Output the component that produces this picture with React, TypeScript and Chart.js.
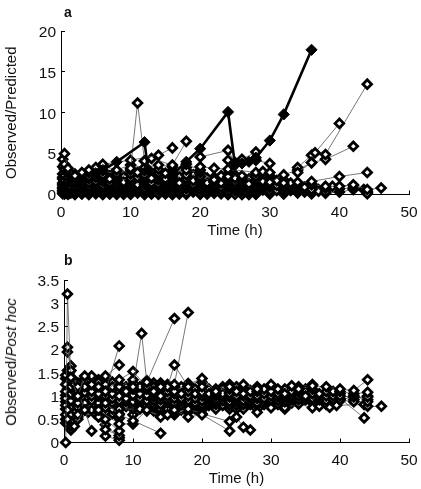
import React, { useEffect, useRef } from "react";
import { Chart, registerables } from "chart.js";

Chart.register(...registerables);

type P = [number, number];

const xTicks = [0, 10, 20, 30, 40, 50];
const yTicksA = [0, 5, 10, 15, 20];
const yTicksB = [0, 0.5, 1, 1.5, 2, 2.5, 3, 3.5];

// Panel a: the two highlighted subjects
const aBoldOne: P[] = [[5, 2.6], [6, 3], [8, 4], [12, 6.4], [12.5, 3.1]];
const aBoldTwo: P[] = [[16, 2.4], [18, 4], [20, 5.6], [24, 10.1], [25, 3.6], [26, 3.8], [27, 4], [28, 4.5], [30, 6.6], [32, 9.8], [36, 17.7]];

// Panel a: remaining subjects
const aSubjects: P[][] = [
  [[10, 3.2], [11, 11.2], [12, 4.1]],
  [[6, 3.7], [10, 4.2], [14, 4.8], [16, 5.7]],
  [[12, 4.1], [13, 4.4], [16, 3.6], [18, 6.5]],
  [[20, 4.6], [24, 5.4], [25, 3.9], [26, 4.3], [28, 5.2]],
  [[24, 4.2], [26, 4], [28, 4.2], [30, 3.8]],
  [[20, 3.4], [22, 3.2], [24, 3.1], [28, 2.7], [29, 2.8], [30, 2.7]],
  [[34, 2.7], [36, 3.9], [36.5, 5.1], [40, 8.7]],
  [[34, 3.3], [36, 4.8], [38, 4.9], [44, 13.5]],
  [[30, 1.5], [32, 2.4], [34, 3], [36, 3.9], [38, 4.3], [42, 5.9]],
  [[34, 1.5], [36, 1.6], [40, 2.2], [44, 2.7]],
  [[36, 1.2], [38, 1], [40, 1], [42, 1.2], [44, 0.6], [46, 0.8]],
  [[36, 0.6], [38, 0.8], [39, 1], [42, 1.1], [43.5, 0.6], [44, 0.1]],
  [[0.5, 5], [1, 3.2], [2, 2.3], [3, 2.7], [4, 3], [5, 3.3], [6, 3.5], [8, 3], [10, 3.6], [12, 3.3], [14, 3.6], [16, 3.4]],
  [[0.25, 4.3], [0.5, 3.7], [1, 2.9], [2, 2.1], [3, 2.4], [4, 2.7], [5, 2.9], [6, 2.9], [8, 2.5], [10, 3], [11, 2.7], [12, 2.9], [14, 3.1], [15, 2.6], [16, 3], [18, 3.7], [20, 3]],
  [[0.5, 3.1], [1, 2.6], [1.5, 2.4], [2, 1.8], [3, 2], [4, 2.2], [5, 2.5], [6, 2.4], [7, 1.9], [8, 2.1], [10, 2.5], [12, 2.4], [13, 2], [14, 2.6], [16, 2.6], [18, 3], [20, 2.7], [22, 1.8], [23, 2.3], [24, 2.2], [26, 2.3], [28, 2.2], [30, 2.3]],
  [[0.25, 2.5], [0.5, 2.3], [1, 2.1], [1.5, 1.9], [2, 1.4], [3, 1.6], [4, 1.9], [5, 2.1], [6, 2], [7, 1.4], [8, 1.7], [10, 2], [11, 2.1], [12, 2], [14, 2.2], [15, 1.9], [16, 2.1], [18, 2.4], [20, 2.2], [22, 1.5], [24, 1.9], [25, 2], [26, 1.9], [28, 1.8], [29, 1.6], [30, 1.9], [31, 1.7], [32, 1.4]],
  [[0.25, 1.9], [0.5, 1.7], [1, 1.6], [1.5, 1.4], [2, 1], [3, 1.2], [4, 1.4], [5, 1.6], [6, 1.6], [7, 1.1], [8, 1.3], [9, 1.5], [10, 1.6], [12, 1.6], [13, 1.4], [14, 1.8], [15, 1.5], [16, 1.7], [17, 1.4], [18, 1.9], [19, 1.7], [20, 1.8], [21, 1.4], [22, 1.1], [23, 1.4], [24, 1.6], [25, 1.5], [26, 1.5], [27, 1.3], [28, 1.5], [30, 1.6], [32, 1.1], [33, 1.4]],
  [[0.25, 1.4], [0.5, 1.2], [1, 1.1], [1.5, 0.9], [2, 0.7], [3, 0.8], [4, 1], [5, 1.2], [6, 1.1], [7, 0.8], [8, 0.9], [9, 1.1], [10, 1.2], [11, 1.2], [12, 1.2], [13, 1], [14, 1.3], [15, 1.1], [16, 1.3], [17, 1], [18, 1.5], [19, 1.2], [20, 1.4], [21, 1.2], [22, 0.9], [24, 1.2], [25, 1.1], [26, 1.1], [27, 1], [28, 1.1], [29, 1.2], [30, 1.2], [31, 1.1], [32, 0.8], [33, 1], [34, 1.2], [35, 0.9], [36, 1.3]],
  [[0.25, 0.9], [0.5, 0.8], [1, 0.7], [1.5, 0.6], [2, 0.45], [3, 0.5], [4, 0.65], [5, 0.8], [6, 0.7], [7, 0.55], [8, 0.6], [9, 0.75], [10, 0.8], [11, 0.8], [12, 0.75], [13, 0.7], [14, 0.9], [15, 0.75], [16, 0.9], [17, 0.7], [18, 1.1], [19, 0.85], [20, 1], [21, 0.8], [22, 0.6], [23, 0.9], [24, 0.85], [25, 0.8], [26, 0.7], [27, 0.65], [28, 0.75], [29, 0.8], [30, 0.85], [32, 0.5], [33, 0.7], [34, 0.8], [35, 0.5], [36, 0.9]],
  [[0.25, 0.5], [0.5, 0.4], [1, 0.3], [1.5, 0.25], [2, 0.2], [3, 0.25], [4, 0.35], [5, 0.45], [6, 0.35], [7, 0.3], [8, 0.3], [9, 0.45], [10, 0.5], [11, 0.45], [12, 0.4], [13, 0.4], [14, 0.55], [15, 0.4], [16, 0.5], [17, 0.4], [18, 0.7], [19, 0.5], [20, 0.6], [21, 0.4], [22, 0.3], [23, 0.5], [24, 0.4], [25, 0.5], [26, 0.4], [27, 0.3], [28, 0.4], [30, 0.4], [31, 0.5], [32, 0.2], [34, 0.5], [36, 0.4], [37, 0.4], [38, 0.3]],
  [[0.25, 0.1], [0.5, 0.05], [1, 0.02], [2, 0], [3, 0.05], [4, 0], [5, 0.1], [6, 0], [7, 0.05], [8, 0.02], [9, 0.15], [10, 0.1], [12, 0.1], [13, 0.05], [14, 0.1], [15, 0.05], [16, 0.1], [17, 0.05], [18, 0.2], [20, 0.15], [21, 0.05], [23, 0.1], [24, 0], [25, 0.02], [26, 0], [27, 0], [28, 0.1]],
  [[0.5, 2.7], [1, 2], [2, 1.6], [3, 1.8], [4, 1.6], [5, 1.8], [6, 1.35], [8, 1.5], [10, 1.35], [12, 1.35], [14, 1.5], [16, 1.5], [18, 1.7], [20, 1.55], [22, 1.3], [24, 1.35], [26, 1.25], [28, 1.3]],
  [[0.5, 1.45], [1, 1.3], [2, 1.2], [3, 1.4], [4, 1.2], [5, 1.4], [6, 0.9], [8, 1.1], [10, 0.95], [12, 0.95], [14, 1.05], [16, 1.05], [18, 1.3], [20, 1.15], [22, 0.7], [24, 1], [26, 0.9], [28, 0.9], [30, 1], [32, 0.6]],
  [[0.25, 3.4], [0.75, 2.9], [1.25, 2.5], [2, 2.5], [3, 2.2], [4, 2.5], [5, 2.7], [6, 2.7], [7, 2.3], [8, 2.9], [9, 2.2], [10, 2.8], [11, 2.4], [12, 2.6], [13, 2.4], [14, 2.9], [15, 2.3], [16, 2.8], [17, 2.2], [18, 3.3], [19, 2.4], [20, 2.5], [21, 2], [22, 2.1], [24, 2.6], [25, 2.4], [26, 2.1], [27, 1.9], [28, 2.5], [30, 2], [31, 1.4], [32, 1.8]],
  [[0.25, 2.1], [0.75, 1.9], [1.25, 1.7], [2, 1.2], [3, 1.4], [4, 1.2], [5, 1], [6, 1.8], [7, 1.6], [8, 1.9], [9, 1.8], [10, 1.8], [11, 1.6], [12, 1.8], [13, 1.7], [14, 2], [15, 1.7], [16, 1.9], [17, 1.7], [18, 2.1], [19, 2], [20, 2], [21, 1.6], [22, 1.3], [23, 1.8], [24, 1.45], [25, 1.7], [26, 1.7], [27, 1.6], [28, 1.65], [29, 1.4], [30, 1.3], [31, 1.3], [32, 1.25], [33, 1.2]],
  [[0.25, 1.15], [0.75, 1], [1.25, 1.25], [2, 0.85], [3, 1], [4, 0.85], [5, 0.6], [6, 0.55], [7, 0.95], [8, 0.75], [9, 0.95], [10, 0.65], [11, 1], [12, 0.55], [13, 0.85], [14, 0.7], [15, 0.9], [16, 0.7], [17, 0.85], [18, 0.95], [19, 1], [20, 0.8], [21, 1], [22, 0.75], [23, 0.7], [24, 0.7], [25, 0.95], [26, 0.55], [27, 0.8], [28, 0.6], [29, 1], [30, 0.7], [31, 0.9], [32, 0.95], [33, 0.85], [34, 0.65], [35, 0.7], [36, 0.7]],
  [[0.25, 0.7], [0.75, 0.55], [1.25, 0.45], [2, 0.35], [3, 0.65], [4, 0.5], [5, 0.3], [6, 0.2], [7, 0.45], [8, 0.15], [9, 0.3], [10, 0.3], [11, 0.6], [12, 0.25], [13, 0.55], [14, 0.3], [15, 0.6], [16, 0.3], [17, 0.55], [18, 0.45], [19, 0.7], [20, 0.4], [21, 0.6], [22, 0.45], [23, 0.3], [24, 0.2], [25, 0.3], [26, 0.25], [27, 0.5], [28, 0.25], [29, 0.55], [30, 0.2], [31, 0.7], [32, 0.35], [33, 0.5], [34, 0.3], [35, 0.3], [36, 0.2], [37, 0.6], [38, 0.5], [40, 0.7], [42, 0.8], [44, 0.4]],
  [[0.25, 0.3], [0.75, 0.2], [1.25, 0.15], [2, 0.1], [3, 0.15], [4, 0.2], [5, 0.2], [6, 0.1], [7, 0.15], [8, 0.08], [9, 0.02], [10, 0.02], [11, 0.2], [12, 0], [13, 0.2], [14, 0.02], [15, 0.2], [16, 0], [17, 0.2], [18, 0.02], [19, 0.3], [20, 0.02], [21, 0.25], [22, 0.15], [23, 0.2], [24, 0.1], [26, 0.1], [28, 0.02], [30, 0.05], [32, 0.05], [34, 0.2], [36, 0.1], [38, 0.15], [40, 0.3], [42, 0.6], [44, 0.25]],
];

// Panel b: subjects with outlying values
const bSubjects: P[][] = [
  [[0.25, 0], [0.5, 3.2], [1, 1.4], [2, 1], [3, 1.43], [4, 1.25], [5, 1.2], [6, 1.1], [8, 2.08]],
  [[0.5, 2.05], [1, 1.55], [2, 1.2], [4, 1.43], [5, 1.3], [6, 1.43], [8, 1.67]],
  [[0.5, 1.95], [1, 1.65], [2, 1.1], [3, 0.7], [4, 0.25]],
  [[10, 1.2], [11.25, 2.35], [12, 1.3], [13, 1.1], [14, 1.2]],
  [[12, 1.3], [16, 2.67]],
  [[15, 1.2], [16, 1.67], [18, 1.2]],
  [[14, 1], [16, 1.25], [18, 2.8]],
  [[6, 1.1], [8, 1.35], [10, 1.53], [12, 1.2], [14, 1.25], [16, 1.1], [18, 1.25], [20, 1.38], [22, 1.1], [24, 1.2], [26, 1.25], [28, 1.15]],
  [[6, 0.85], [8, 0.6], [10, 0.47], [14, 0.2]],
  [[5, 0.7], [8, 0.4], [10, 0.4], [12, 0.7], [14, 0.55], [15, 0.6]],
  [[6, 0.75], [8, 0.72], [11, 0.72], [12, 0.68], [14, 0.58], [16, 0.7], [18, 0.55], [20, 0.6], [24, 0.25]],
  [[16, 0.65], [18, 0.72], [20, 0.62], [24, 0.45], [25, 0.55], [26, 0.33], [27, 0.27]],
  [[2, 0.85], [4, 0.7], [6, 0.5], [8, 0.25]],
  [[0.5, 0.5], [1, 0.35], [1.5, 0.35], [3, 0.7], [5, 0.55], [6, 0.28], [8, 0.15]],
  [[0.5, 0.4], [1, 0.27], [2, 0.6], [5, 0.6], [6, 0.14], [8, 0.05]],
  [[0.5, 0.7], [1, 0.45], [2, 0.75], [3, 0.85], [6, 0.38], [8, 0.1]],
  [[0.25, 1.25], [0.5, 1.55], [1, 1.2], [1.5, 1.25], [2, 1.28], [3, 1.2], [4, 1.1], [5, 1.05], [6, 1.25], [7, 1.2], [8, 1.2], [10, 1.35], [11, 1.2], [12, 1.33], [13, 1.2], [14, 1.1], [15, 1.1], [16, 1.2], [17, 1.05], [18, 1.2], [20, 1.2], [21, 1.05], [22, 1.05], [24, 1.15], [25, 1.1], [26, 1.05], [27, 1.1], [28, 1.1], [29, 1.15], [30, 1.25], [31, 1.15], [32, 1.05], [33, 1.22], [34, 1.15], [36, 1.22], [38, 1.2], [40, 1.15], [42, 1.12], [44, 1.35]],
  [[0.25, 1.1], [0.5, 1.3], [1, 1.05], [1.5, 1.1], [2, 1.15], [3, 1.08], [4, 1], [5, 1.15], [6, 1], [7, 1.05], [8, 1], [9, 1.1], [10, 1.15], [11, 1.05], [12, 1.15], [13, 1.05], [14, 1.02], [15, 1], [16, 1.05], [17, 0.95], [18, 1.1], [19, 1.05], [20, 1.08], [21, 1], [22, 1], [23, 1.05], [24, 1.05], [25, 1], [26, 1.12], [27, 1], [28, 1], [29, 1.05], [30, 1.1], [31, 1.05], [32, 1], [33, 1.1], [34, 1.08], [35, 1], [36, 1.15], [37, 1.05], [38, 1.1], [39, 1.1], [40, 1.1], [42, 1.05], [44, 1.08]],
  [[0.25, 0.95], [0.5, 1.15], [1, 0.9], [1.5, 1], [2, 1.03], [3, 0.95], [4, 0.9], [5, 1], [6, 0.92], [7, 0.95], [8, 0.9], [9, 0.95], [10, 1.02], [11, 0.95], [12, 1.02], [13, 0.98], [14, 0.92], [15, 0.92], [16, 0.95], [17, 0.88], [18, 1], [19, 0.95], [20, 1], [21, 0.95], [22, 0.92], [23, 0.98], [24, 0.98], [25, 0.95], [26, 1], [27, 0.95], [28, 0.95], [29, 0.95], [30, 1], [31, 0.98], [32, 0.95], [33, 1.02], [34, 1], [35, 0.97], [36, 1.05], [37, 0.98], [38, 1], [39, 1], [40, 1], [42, 0.98], [44, 0.98]],
  [[0.25, 0.8], [0.5, 1], [1, 0.75], [1.5, 0.85], [2, 0.92], [3, 0.82], [4, 0.8], [5, 0.85], [6, 0.82], [7, 0.85], [8, 0.8], [9, 0.88], [10, 0.88], [11, 0.88], [12, 0.9], [13, 0.9], [14, 0.82], [15, 0.85], [16, 0.85], [17, 0.8], [18, 0.9], [19, 0.85], [20, 0.9], [21, 0.9], [22, 0.85], [23, 0.9], [24, 0.88], [25, 0.88], [26, 0.9], [27, 0.88], [28, 0.85], [29, 0.88], [30, 0.92], [31, 0.9], [32, 0.88], [33, 0.95], [34, 0.92], [35, 0.93], [36, 0.95], [37, 0.92], [38, 0.9], [39, 0.92], [40, 0.92], [42, 0.88], [44, 0.88]],
  [[0.25, 0.6], [0.5, 0.85], [1, 0.6], [1.5, 0.7], [2, 0.78], [3, 0.72], [4, 0.72], [5, 0.75], [6, 0.65], [7, 0.72], [8, 0.52], [9, 0.78], [10, 0.8], [11, 0.78], [12, 0.8], [13, 0.82], [14, 0.72], [15, 0.72], [16, 0.75], [17, 0.7], [18, 0.8], [19, 0.78], [20, 0.82], [22, 0.82], [24, 0.8], [25, 0.8], [26, 0.82], [27, 0.82], [28, 0.65], [29, 0.82], [30, 0.75], [31, 0.82], [32, 0.75], [34, 0.83], [36, 0.75], [37, 0.78], [38, 0.82], [38.5, 0.76], [39.5, 0.8], [43.5, 0.82], [44, 0.78], [46, 0.78]],
  [[0.5, 1.05], [1, 1.35], [2, 1.12], [3, 1.33], [4, 1.35], [5, 1.25], [6, 1.35], [7, 1.08], [8, 1.1], [10, 1.25], [12, 1.25], [14, 1.28], [16, 1.12], [18, 1.27], [20, 1.3], [22, 1.15], [24, 1.25], [26, 1.2], [28, 1.2], [30, 1.15], [32, 1.15], [34, 1.2], [36, 1.25]],
  [[43.5, 0.53], [40, 0.95], [38, 1.02], [36, 1.1], [34, 1.05], [32, 1.02], [30, 1.05], [28, 1.05], [26, 1.03], [24, 1], [22, 1], [20, 0.97], [18, 0.98], [16, 1], [14, 1.02], [12, 0.97], [10, 0.95], [8, 0.95], [6, 1.05], [4, 1.07], [2, 0.97], [1, 0.97], [0.5, 0.6]],
  [[0.25, 1.45], [0.75, 1.28], [1.25, 1.15], [2, 0.9], [2.5, 1.2], [3, 1.25], [3.5, 1.15], [4, 1.2], [4.5, 1.3], [5, 1.35], [5.5, 1.1], [6, 1.15], [6.5, 1], [7, 1.3], [7.5, 1.1], [8, 1.25], [9, 1.2], [10, 1.1], [11, 1.12], [12, 1.1], [13, 1.28], [14, 1.15], [15, 1.25], [16, 1.15], [17, 1.2], [18, 1.15], [19, 1.15], [20, 1.12], [21, 1.15], [22, 0.98], [23, 1.15], [24, 1.1], [25, 1.2], [26, 1.15], [27, 1.05], [28, 1.05], [29, 1.1], [30, 1.05], [31, 0.95], [32, 1.12], [33, 1.05], [34, 1], [35, 1.1], [36, 1]],
  [[0.25, 0.88], [0.75, 1.12], [1.25, 1.02], [2, 0.68], [2.5, 1.05], [3, 1.02], [3.5, 1], [4, 1.02], [4.5, 1.08], [5, 0.92], [5.5, 0.95], [6, 0.88], [6.5, 0.92], [7, 0.9], [7.5, 0.98], [8, 0.85], [9, 1.02], [10, 0.98], [11, 1], [12, 0.85], [13, 1.12], [14, 0.95], [15, 1.05], [16, 0.9], [17, 1.1], [18, 0.92], [19, 0.9], [20, 0.88], [21, 1.1], [22, 0.9], [23, 0.95], [24, 0.92], [25, 1.05], [26, 0.95], [27, 0.92], [28, 0.9], [29, 1], [30, 0.85], [31, 1.1], [32, 0.82], [33, 0.9], [34, 0.95], [35, 1.05], [36, 0.92]],
  [[0.25, 0.72], [0.75, 0.95], [1.25, 0.85], [2, 1.1], [2.5, 0.9], [3, 0.9], [3.5, 0.85], [4, 0.85], [4.5, 0.9], [5, 1.08], [5.5, 0.8], [6, 0.7], [6.5, 0.8], [7, 0.78], [7.5, 0.85], [8, 0.7], [9, 0.92], [10, 0.72], [11, 0.85], [12, 1.08], [13, 0.75], [14, 0.85], [15, 0.65], [16, 0.82], [17, 0.75], [18, 0.85], [19, 1], [20, 0.75], [21, 0.85], [22, 1.1], [23, 0.8], [24, 0.82], [25, 0.72], [26, 0.85], [27, 1.12], [28, 0.72], [29, 0.92], [30, 0.95], [31, 0.88], [32, 0.92], [33, 0.85], [34, 0.88], [35, 1.15], [36, 0.85]],
  [[0.25, 0.5], [0.75, 0.75], [1.25, 0.65], [2, 0.62], [2.5, 0.78], [3, 1.12], [3.5, 0.75], [4, 1.15], [4.5, 0.75], [5, 0.65], [5.5, 0.68], [6, 1.3], [6.5, 1.15], [7, 0.62], [7.5, 0.72], [8, 1.05], [9, 0.85], [10, 0.6], [11, 1.1], [12, 0.88], [13, 0.68], [14, 1.2], [15, 0.85], [16, 0.6], [17, 1.15], [18, 0.65], [19, 1.1], [20, 0.7], [22, 0.85], [23, 1.1], [24, 0.72], [25, 0.9], [26, 0.72], [27, 0.95], [28, 0.98], [29, 1.1], [30, 0.82], [31, 1.02], [32, 0.72], [33, 1.15], [34, 0.9], [36, 0.98], [38, 0.95], [40, 1.05], [42, 0.92], [44, 1]],
  [[0.25, 1.38], [0.75, 1.5], [1.25, 1.38], [2, 1.22], [2.5, 0.95], [3, 0.78], [3.5, 1.3], [4, 0.95], [4.5, 0.62], [5, 1.1], [5.5, 1.25], [6, 1.2], [6.5, 1.25], [7, 1.15], [7.5, 1.2], [8, 1.15], [9, 0.78], [10, 1.28], [11, 0.9], [12, 1.05], [13, 0.88], [14, 0.78], [15, 0.78], [16, 1.08], [17, 0.9], [18, 1.05], [19, 0.72], [20, 1.05], [21, 0.8], [22, 0.72], [23, 1.2], [24, 1.08], [25, 0.85], [26, 1.08], [28, 0.78], [30, 1.02], [32, 1.1], [34, 0.98], [36, 1.08], [38, 0.85], [40, 0.9], [42, 1], [44, 0.92]],
  [[0.25, 1.02], [0.75, 0.65], [1.25, 0.55], [2, 0.5], [2.5, 0.7], [3, 1.38], [3.5, 0.65], [4, 0.72], [4.5, 1.2], [5, 0.58], [5.5, 0.55], [6, 0.58], [6.5, 0.68], [7, 0.7], [7.5, 0.6], [8, 0.62], [9, 1.05], [10, 1.05], [11, 0.98], [12, 0.78], [13, 0.95], [14, 0.68], [15, 0.98], [16, 0.78], [17, 1], [18, 0.78], [19, 1.02], [20, 0.8], [21, 0.98], [22, 1.12], [23, 1], [24, 0.95], [25, 1.12], [26, 0.78], [27, 1.02], [28, 1.12], [29, 1], [30, 0.98], [32, 0.98], [33, 0.98], [34, 1.1], [35, 0.92], [36, 1.02]],
  [[0.25, 0.42], [0.75, 0.82], [1.25, 0.78], [2, 0.55], [2.5, 1.1], [3, 1.15], [3.5, 1.05], [4, 0.78], [4.5, 1], [5, 0.78], [5.5, 1.02], [6, 0.95], [6.5, 1.08], [7, 1.12], [7.5, 0.78], [8, 0.78], [9, 1.15], [10, 0.85], [11, 0.8], [12, 0.72], [13, 1.15], [14, 1.08], [15, 1.15], [16, 0.98], [17, 0.98], [18, 1.18], [19, 0.82], [20, 1.15], [22, 0.95], [24, 1.12], [26, 0.98], [28, 1.15], [30, 0.9], [32, 0.9], [34, 1.12], [36, 0.88]],
];

function buildDatasets(subjects: P[][], bold: P[][]) {
  const boldSets = bold.map((pts) => ({
    data: pts.map(([x, y]) => ({ x, y })),
    showLine: true,
    borderColor: "#000",
    borderWidth: 2.6,
    pointBackgroundColor: "#000",
    pointBorderColor: "#000",
    pointBorderWidth: 1,
    pointStyle: "rectRot",
    pointRadius: 5.6,
    clip: false,
  }));
  const thinSets = subjects.map((pts) => ({
    data: pts.map(([x, y]) => ({ x, y })),
    showLine: true,
    borderColor: "#555",
    borderWidth: 0.8,
    pointBackgroundColor: "#fff",
    pointBorderColor: "#000",
    pointBorderWidth: 2.8,
    pointStyle: "rectRot",
    pointRadius: 4.3,
    clip: false,
  }));
  return [...boldSets, ...thinSets];
}

const FONT = "'Liberation Sans', Arial, sans-serif";
const INK = "#111";

type Panel = {
  subjects: P[][];
  bold: P[][];
  yMax: number;
  yTicks: number[];
  yTitle: string;
  left: number;
  top: number;
  bottom: number;
  titleGap: number;
};

function makeChart(canvas: HTMLCanvasElement, p: Panel) {
  const axisGrid = {
    drawOnChartArea: false,
    drawTicks: true,
    tickLength: -4,
    color: "#000",
    tickWidth: 1,
  };
  return new Chart(canvas, {
    type: "scatter",
    data: { datasets: buildDatasets(p.subjects, p.bold) as any },
    options: {
      responsive: false,
      animation: false,
      layout: { padding: { top: p.top, right: 12, left: 0, bottom: 0 } },
      plugins: { legend: { display: false }, tooltip: { enabled: false } },
      scales: {
        x: {
          type: "linear",
          min: 0,
          max: 50,
          afterBuildTicks: (s: any) => { s.ticks = xTicks.map((value) => ({ value })); },
          afterFit: (s: any) => { s.height = p.bottom; s.paddingLeft = 0; s.paddingRight = 0; },
          border: { color: "#000", width: 1 },
          grid: axisGrid,
          ticks: { maxRotation: 0, padding: 13, color: INK, font: { family: FONT, size: 15.5 } },
          title: { display: true, text: "Time (h)", color: INK, font: { family: FONT, size: 15 }, padding: { top: 0, bottom: p.titleGap } },
        },
        y: {
          type: "linear",
          min: 0,
          max: p.yMax,
          afterBuildTicks: (s: any) => { s.ticks = p.yTicks.map((value) => ({ value })); },
          afterFit: (s: any) => { s.width = p.left; s.paddingTop = 0; s.paddingBottom = 0; },
          border: { color: "#000", width: 1 },
          grid: axisGrid,
          ticks: { padding: 9, labelOffset: 1.5, color: INK, font: { family: FONT, size: 15.5 }, callback: (v: any) => String(v) },
          title: { display: p.yTitle !== "", text: p.yTitle, color: INK, font: { family: FONT, size: 15 }, padding: { top: 3, bottom: 0 } },
        },
      },
    } as any,
  });
}

const panelA: Panel = { subjects: aSubjects, bold: [aBoldOne, aBoldTwo], yMax: 20, yTicks: yTicksA, yTitle: "Observed/Predicted", left: 61, top: 31, bottom: 50.5, titleGap: 5 };
const panelB: Panel = { subjects: bSubjects, bold: [], yMax: 3.5, yTicks: yTicksB, yTitle: "", left: 64, top: 35, bottom: 46.5, titleGap: 1 };

const label: React.CSSProperties = { position: "absolute", fontFamily: FONT, fontWeight: "bold", fontSize: 14, color: INK, lineHeight: "16px" };

export default function App() {
  const a = useRef<HTMLCanvasElement>(null);
  const b = useRef<HTMLCanvasElement>(null);
  useEffect(() => {
    const ca = makeChart(a.current!, panelA);
    const cb = makeChart(b.current!, panelB);
    return () => { ca.destroy(); cb.destroy(); };
  }, []);
  return (
    <div style={{ position: "absolute", left: 0, top: 0, width: 421, height: 489, background: "#fff", overflow: "hidden" }}>
      <canvas ref={a} width={421} height={245} style={{ position: "absolute", left: 0, top: 0 }} />
      <canvas ref={b} width={421} height={244} style={{ position: "absolute", left: 0, top: 245 }} />
      <div style={{ ...label, left: 64, top: 4 }}>a</div>
      <div style={{ ...label, left: 64, top: 252 }}>b</div>
      <div style={{ position: "absolute", left: 11, top: 362, width: 0, height: 0, color: INK, fontFamily: FONT, fontSize: 15 }}>
        <div style={{ position: "absolute", whiteSpace: "nowrap", transform: "translate(-50%,-50%) rotate(-90deg)", lineHeight: "18px" }}>
          Observed/<i>Post hoc</i>
        </div>
      </div>
    </div>
  );
}
